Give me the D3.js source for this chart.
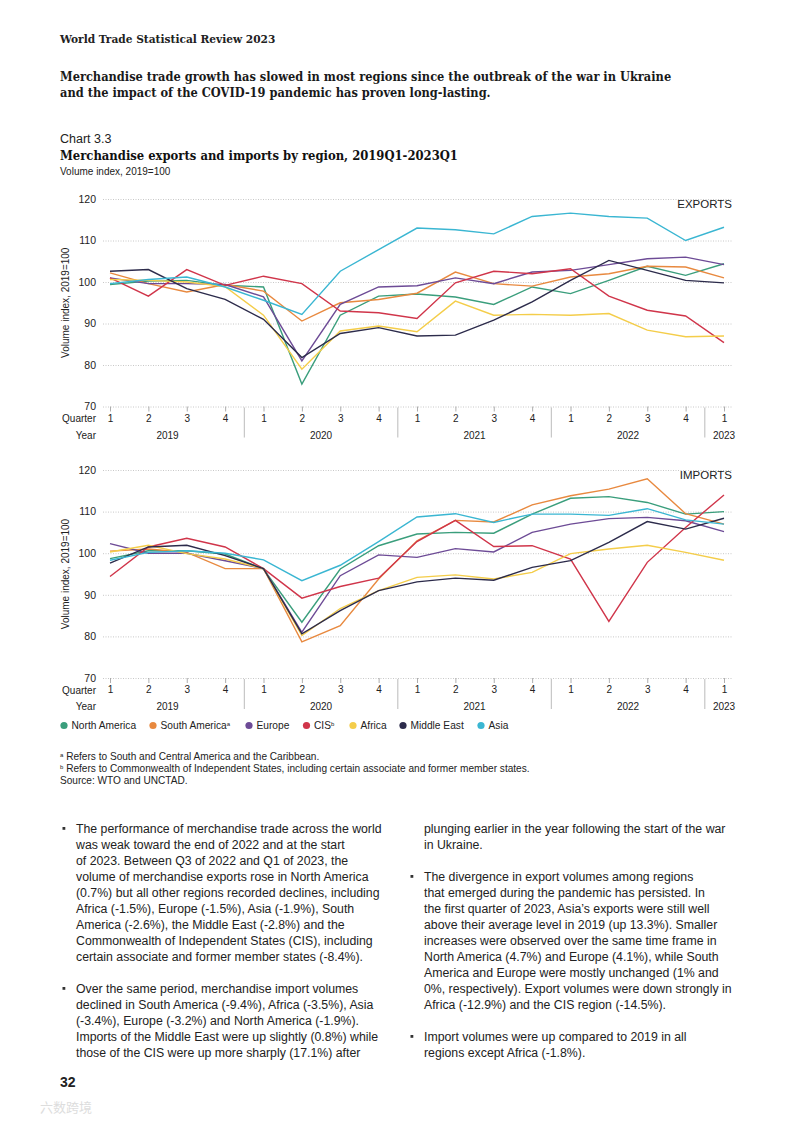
<!DOCTYPE html>
<html>
<head>
<meta charset="utf-8">
<script src="https://cdn.jsdelivr.net/npm/d3@7"></script>
<style>
  body { margin: 0; background: #fff; }
  svg { display: block; }
  .sans { font-family: "Liberation Sans", Arial, sans-serif; }
  .slab { font-family: "DejaVu Serif Condensed", "DejaVu Serif", serif; }
</style>
</head>
<body>
<svg id="page" width="793" height="1122"></svg>
<script>
// quarters 2019Q1 .. 2023Q1
const periods = ['2019Q1','2019Q2','2019Q3','2019Q4','2020Q1','2020Q2','2020Q3','2020Q4',
  '2021Q1','2021Q2','2021Q3','2021Q4','2022Q1','2022Q2','2022Q3','2022Q4','2023Q1'];
const years = ['2019','2020','2021','2022','2023'];
const yTicks = [70, 80, 90, 100, 110, 120];

const regions = ['North America','South America','Europe','CIS','Africa','Middle East','Asia'];
const regionMarks = ['', 'a', '', 'b', '', '', ''];
const regionColors = ['#3a9e7c','#e8893f','#6d4b96','#d0354a','#f4cd4a','#2c2b4b','#3ab6d2'];

// export volume index, 2019=100
const exportsNorthAmerica = [99.4,100.2,100.4,99.2,98.8,75.4,92.0,96.6,97.1,96.4,94.6,98.8,97.2,100.4,103.8,101.6,104.4];
const exportsSouthAmerica = [102.2,99.6,97.6,99.4,97.8,90.6,95.0,95.8,97.3,102.4,99.6,99.0,101.2,102.0,103.8,103.6,101.0];
const exportsEurope = [101.0,99.6,99.6,99.4,96.4,81.0,94.6,98.8,99.1,101.0,99.6,102.4,102.8,104.2,105.6,106.0,104.2];
const exportsCIS = [101.0,96.6,103.0,99.2,101.4,99.6,93.0,92.6,91.2,99.8,102.6,102.0,103.2,96.6,93.2,91.8,85.4];
const exportsAfrica = [100.6,100.4,100.0,98.9,92.0,79.0,88.2,89.4,88.0,95.4,92.0,92.2,92.0,92.4,88.4,86.8,87.0];
const exportsMiddleEast = [102.6,103.0,98.4,95.8,91.0,81.8,87.6,89.0,87.0,87.2,90.8,95.2,100.4,105.2,102.8,100.4,99.8];
const exportsAsia = [99.6,100.6,101.2,98.8,95.6,92.2,102.6,107.8,113.0,112.6,111.6,115.8,116.6,115.8,115.4,110.0,113.2];

// import volume index, 2019=100
const importsNorthAmerica = [98.7,100.6,100.6,99.8,96.2,83.4,96.2,101.8,104.6,105.0,104.8,109.4,113.2,113.6,112.2,109.4,110.0];
const importsSouthAmerica = [100.5,101.0,100.2,96.3,96.3,78.7,82.6,93.8,103.0,107.9,107.5,111.6,113.8,115.4,117.9,109.5,107.0];
const importsEurope = [102.3,100.0,100.0,98.2,96.3,81.0,94.6,99.6,99.0,101.1,100.3,105.0,107.0,108.3,108.6,107.8,105.2];
const importsCIS = [94.4,101.5,103.6,101.5,96.3,89.2,92.0,94.0,102.8,107.9,101.6,101.8,98.6,83.6,97.8,106.2,114.0];
const importsAfrica = [100.3,101.9,99.9,98.6,96.3,80.2,86.7,91.0,94.2,94.8,93.8,95.4,99.9,101.0,101.9,100.2,98.3];
const importsMiddleEast = [97.6,101.5,101.9,99.4,96.3,80.6,86.2,91.0,93.1,94.0,93.5,96.6,98.2,102.6,107.6,105.8,108.4];
const importsAsia = [98.3,100.2,100.6,100.0,98.4,93.4,97.1,102.8,108.7,109.5,107.4,109.4,109.4,109.1,110.7,108.0,107.0];

const exportSeries = [exportsNorthAmerica, exportsSouthAmerica, exportsEurope, exportsCIS, exportsAfrica, exportsMiddleEast, exportsAsia];
const importSeries = [importsNorthAmerica, importsSouthAmerica, importsEurope, importsCIS, importsAfrica, importsMiddleEast, importsAsia];

const svg = d3.select('#page');

// page header
svg.append('text').attr('class', 'slab')
  .attr('x', 60).attr('y', 43)
  .attr('font-size', 11.8).attr('font-weight', 600).attr('fill', '#222')
  .text('World Trade Statistical Review 2023');

const introLines = [
  'Merchandise trade growth has slowed in most regions since the outbreak of the war in Ukraine',
  'and the impact of the COVID-19 pandemic has proven long-lasting.'
];
svg.append('g').selectAll('text')
  .data(introLines)
  .enter()
  .append('text').attr('class', 'slab')
  .attr('x', 60).attr('y', (d, i) => 81 + i * 16)
  .attr('font-size', 12.7).attr('font-weight', 700).attr('fill', '#1a1a1a')
  .text(d => d);

svg.append('text').attr('class', 'sans')
  .attr('x', 60).attr('y', 143)
  .attr('font-size', 12.5).attr('fill', '#222')
  .text('Chart 3.3');
svg.append('text').attr('class', 'slab')
  .attr('x', 60).attr('y', 160)
  .attr('font-size', 12.9).attr('font-weight', 700).attr('fill', '#111')
  .text('Merchandise exports and imports by region, 2019Q1-2023Q1');
svg.append('text').attr('class', 'sans')
  .attr('x', 60).attr('y', 175)
  .attr('font-size', 10).attr('fill', '#222')
  .text('Volume index, 2019=100');

const x = d3.scalePoint().domain(periods).range([110, 724]);
const gridLeft = 103;
const gridRight = 733;

function drawPanel(series, top, bottom, label) {
  const y = d3.scaleLinear().domain([70, 120]).range([bottom, top]);
  const g = svg.append('g').attr('class', 'sans');

  // dotted gridlines + y labels
  const yAxis = g.append('g')
    .attr('transform', `translate(${gridLeft},0)`)
    .call(d3.axisLeft(y).tickValues(yTicks).tickSize(-(gridRight - gridLeft)).tickPadding(7));
  yAxis.select('.domain').remove();
  yAxis.selectAll('line').attr('stroke', '#c8c8c8').attr('stroke-dasharray', '1,1.5');
  yAxis.selectAll('text').attr('font-size', 10.5).attr('fill', '#222')
    .attr('font-family', '"Liberation Sans", Arial, sans-serif');

  // quarter ticks
  const xAxis = g.append('g')
    .attr('transform', `translate(0,${bottom})`)
    .call(d3.axisBottom(x).tickSize(5).tickPadding(3).tickFormat(d => d.slice(5)));
  xAxis.select('.domain').remove();
  xAxis.selectAll('line').attr('stroke', '#999').attr('stroke-width', 0.8);
  xAxis.selectAll('text').attr('font-size', 10).attr('fill', '#222')
    .attr('font-family', '"Liberation Sans", Arial, sans-serif');

  // year groups
  years.forEach((yr, i) => {
    const qs = periods.filter(p => p.startsWith(yr));
    const mid = (x(qs[0]) + x(qs[qs.length - 1])) / 2;
    g.append('text')
      .attr('x', mid).attr('y', bottom + 32)
      .attr('text-anchor', 'middle').attr('font-size', 10).attr('fill', '#222')
      .text(yr);
    if (i > 0) {
      const prev = periods[periods.indexOf(qs[0]) - 1];
      const sx = (x(prev) + x(qs[0])) / 2;
      g.append('line')
        .attr('x1', sx).attr('x2', sx)
        .attr('y1', bottom + 1).attr('y2', bottom + 31)
        .attr('stroke', '#aaa').attr('stroke-width', 0.8);
    }
  });

  g.append('text').attr('x', 96).attr('y', bottom + 15.5)
    .attr('text-anchor', 'end').attr('font-size', 10).attr('fill', '#222').text('Quarter');
  g.append('text').attr('x', 96).attr('y', bottom + 32)
    .attr('text-anchor', 'end').attr('font-size', 10).attr('fill', '#222').text('Year');

  // axis title
  const cy = (top + bottom) / 2;
  g.append('text')
    .attr('transform', `translate(69,${cy}) rotate(-90)`)
    .attr('text-anchor', 'middle').attr('font-size', 10).attr('fill', '#222')
    .text('Volume index, 2019=100');

  g.append('text').attr('x', 732).attr('y', top + 9)
    .attr('text-anchor', 'end').attr('font-size', 11.5).attr('fill', '#222')
    .text(label);

  const line = d3.line()
    .x((d, i) => x(periods[i]))
    .y(d => y(d));

  g.append('g').selectAll('path')
    .data(series)
    .enter()
    .append('path')
    .attr('d', d => line(d))
    .attr('fill', 'none')
    .attr('stroke', (d, i) => regionColors[i])
    .attr('stroke-width', 1.4)
    .attr('stroke-linejoin', 'miter');
}

drawPanel(exportSeries, 199, 406.5, 'EXPORTS');
drawPanel(importSeries, 470, 678, 'IMPORTS');

// legend
const legendX = [64, 153, 249, 306.5, 353, 403, 481];
const legend = svg.append('g').attr('class', 'sans');
regions.forEach((r, i) => {
  legend.append('circle')
    .attr('cx', legendX[i]).attr('cy', 725.5).attr('r', 3.6)
    .attr('fill', regionColors[i]);
  const t = legend.append('text')
    .attr('x', legendX[i] + 7.5).attr('y', 729)
    .attr('font-size', 10.2).attr('fill', '#222')
    .text(r);
  if (regionMarks[i]) {
    t.append('tspan').attr('font-size', 6).attr('dy', -3.5).text(regionMarks[i]);
  }
});

// notes
const notes = [
  ['a', 'Refers to South and Central America and the Caribbean.'],
  ['b', 'Refers to Commonwealth of Independent States, including certain associate and former member states.'],
  ['', 'Source: WTO and UNCTAD.']
];
const noteG = svg.append('g').attr('class', 'sans');
notes.forEach((n, i) => {
  const t = noteG.append('text')
    .attr('x', 60).attr('y', 759.5 + i * 12.4)
    .attr('font-size', 10.1).attr('fill', '#222');
  if (n[0]) {
    t.append('tspan').attr('font-size', 6).attr('dy', -3).text(n[0]);
    t.append('tspan').attr('dy', 3).text(' ' + n[1]);
  } else {
    t.text(n[1]);
  }
});

// body text, two columns
const leftColumn = [
  ['The performance of merchandise trade across the world',
   'was weak toward the end of 2022 and at the start',
   'of 2023. Between Q3 of 2022 and Q1 of 2023, the',
   'volume of merchandise exports rose in North America',
   '(0.7%) but all other regions recorded declines, including',
   'Africa (-1.5%), Europe (-1.5%), Asia (-1.9%), South',
   'America (-2.6%), the Middle East (-2.8%) and the',
   'Commonwealth of Independent States (CIS), including',
   'certain associate and former member states (-8.4%).'],
  ['Over the same period, merchandise import volumes',
   'declined in South America (-9.4%), Africa (-3.5%), Asia',
   '(-3.4%), Europe (-3.2%) and North America (-1.9%).',
   'Imports of the Middle East were up slightly (0.8%) while',
   'those of the CIS were up more sharply (17.1%) after']
];
const rightColumn = [
  ['plunging earlier in the year following the start of the war',
   'in Ukraine.'],
  ['The divergence in export volumes among regions',
   'that emerged during the pandemic has persisted. In',
   'the first quarter of 2023, Asia\u2019s exports were still well',
   'above their average level in 2019 (up 13.3%). Smaller',
   'increases were observed over the same time frame in',
   'North America (4.7%) and Europe (4.1%), while South',
   'America and Europe were mostly unchanged (1% and',
   '0%, respectively). Export volumes were down strongly in',
   'Africa (-12.9%) and the CIS region (-14.5%).'],
  ['Import volumes were up compared to 2019 in all',
   'regions except Africa (-1.8%).']
];

function drawColumn(paras, textX, bulletFirst) {
  const g = svg.append('g').attr('class', 'sans');
  let yPos = 832.5;
  paras.forEach((lines, pi) => {
    if (pi > 0 || bulletFirst) {
      g.append('rect').attr('x', textX - 13.5).attr('y', yPos - 5.5)
        .attr('width', 2.8).attr('height', 2.8).attr('fill', '#333');
    }
    lines.forEach(l => {
      g.append('text').attr('x', textX).attr('y', yPos)
        .attr('font-size', 12.3).attr('fill', '#222').text(l);
      yPos += 16;
    });
    yPos += 16;
  });
}
drawColumn(leftColumn, 76, true);
drawColumn(rightColumn, 424, false);

svg.append('text').attr('class', 'sans')
  .attr('x', 60).attr('y', 1087)
  .attr('font-size', 14).attr('font-weight', 700).attr('fill', '#222')
  .text('32');

svg.append('text')
  .attr('x', 40).attr('y', 1112)
  .attr('font-family', '"Noto Sans CJK SC", sans-serif')
  .attr('font-size', 13).attr('fill', '#ddd')
  .text('六数跨境');
</script>
</body>
</html>
